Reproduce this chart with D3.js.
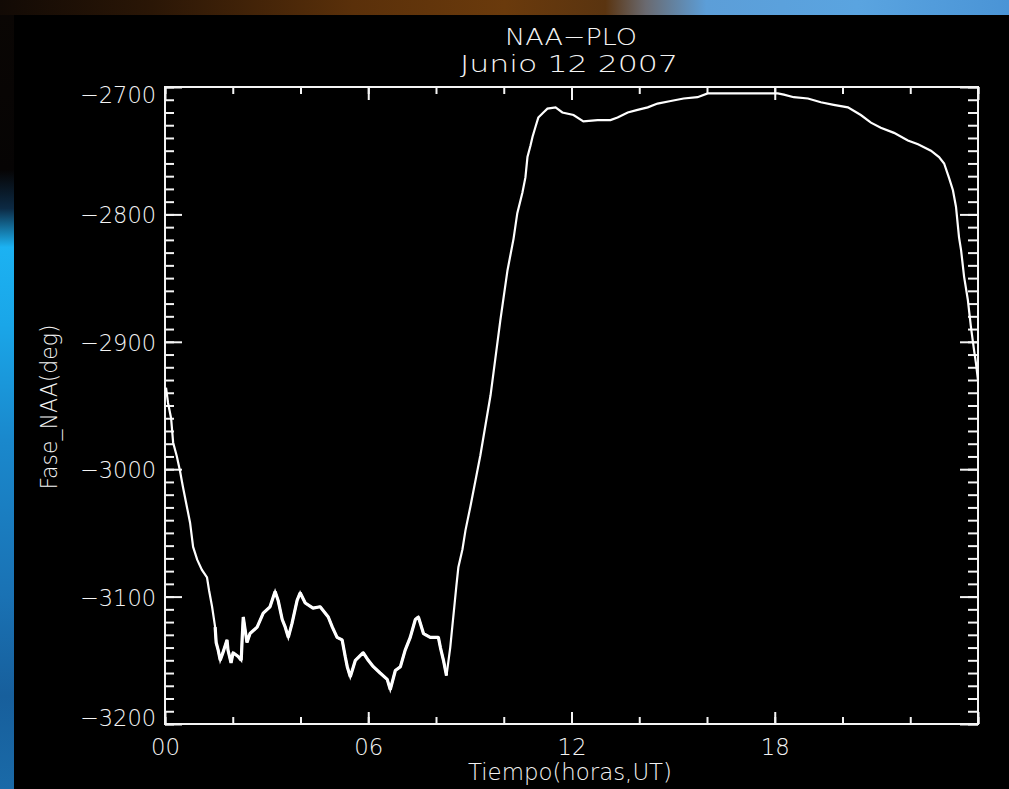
<!DOCTYPE html>
<html>
<head>
<meta charset="utf-8">
<script src="https://cdn.jsdelivr.net/npm/d3@7"></script>
<style>
  html, body { margin: 0; padding: 0; background: #000; }
  svg { display: block; }
  text { fill: #f4f4f4; font-family: "DejaVu Sans", sans-serif; font-weight: 200; }
</style>
</head>
<body>
<svg id="chart" width="1009" height="789"></svg>
<script>
/******************************************************************************/
/** data: time in hours UT, phase in degrees */

var hours = [0.03, 0.09, 0.18, 0.24, 0.35, 0.44, 0.53, 0.65, 0.74, 0.83, 0.95, 1.09, 1.24, 1.30, 1.39,
  1.48, 1.51, 1.57, 1.63, 1.71, 1.83, 1.86, 1.95, 2.01, 2.16, 2.25, 2.28, 2.31, 2.42, 2.51,
  2.72, 2.90, 3.10, 3.25, 3.34, 3.46, 3.55, 3.64, 3.75, 3.90, 3.99, 4.14, 4.37, 4.58, 4.82,
  4.94, 5.08, 5.23, 5.32, 5.38, 5.47, 5.62, 5.85, 6.00, 6.15, 6.35, 6.56, 6.65, 6.80, 6.95,
  7.09, 7.24, 7.39, 7.48, 7.63, 7.83, 8.07, 8.13, 8.22, 8.31, 8.42, 8.48, 8.54, 8.60, 8.66,
  8.78, 8.87, 9.01, 9.31, 9.61, 9.90, 10.11, 10.29, 10.40, 10.55, 10.64, 10.70, 10.79, 10.85, 10.94,
  11.02, 11.17, 11.29, 11.53, 11.73, 12.06, 12.35, 12.77, 13.15, 13.36, 13.66, 13.95, 14.25, 14.54, 14.93,
  15.31, 15.72, 16.02, 16.40, 16.79, 17.20, 17.59, 18.09, 18.27, 18.56, 18.98, 19.36, 19.74, 20.16, 20.54,
  20.84, 21.13, 21.52, 21.93, 22.23, 22.61, 22.85, 23.00, 23.14, 23.26, 23.35, 23.44, 23.50, 23.59, 23.70,
  23.79, 23.88, 23.94, 24.00];

var phase = [-2936, -2948, -2960, -2979, -2990, -3001, -3014, -3030, -3042, -3061, -3071, -3079, -3085, -3095, -3108,
  -3124, -3136, -3142, -3150, -3144, -3134, -3142, -3152, -3144, -3147, -3150, -3132, -3116, -3136, -3129,
  -3124, -3113, -3108, -3096, -3103, -3118, -3124, -3132, -3121, -3103, -3097, -3105, -3109, -3108, -3116,
  -3124, -3132, -3134, -3147, -3155, -3163, -3150, -3144, -3150, -3155, -3160, -3165, -3173, -3158, -3155,
  -3142, -3132, -3118, -3116, -3129, -3132, -3132, -3140, -3150, -3162, -3140, -3124, -3108, -3092, -3077,
  -3063, -3048, -3030, -2989, -2942, -2883, -2844, -2819, -2799, -2783, -2771, -2755, -2746, -2739, -2731,
  -2724, -2720, -2717, -2716, -2720, -2722, -2727, -2726, -2726, -2724, -2720, -2718, -2716, -2713, -2711,
  -2709, -2708, -2705, -2705, -2705, -2705, -2705, -2705, -2706, -2708, -2709, -2712, -2714, -2716, -2722,
  -2728, -2732, -2736, -2742, -2745, -2750, -2755, -2760, -2771, -2781, -2794, -2818, -2828, -2849, -2867,
  -2888, -2906, -2917, -2930];

var xMajor = [0, 6, 12, 18, 24];
var xMajorLabels = ["00", "06", "12", "18", ""];
var xMinor = d3.range(0, 25, 2);
var yMajor = [-3200, -3100, -3000, -2900, -2800, -2700];
var yMinor = d3.range(-3200, -2699, 10);

var titleLines = ["NAA\u2212PLO", "Junio 12 2007"];
var xTitle = "Tiempo(horas,UT)";
var yTitle = "Fase_NAA(deg)";

/******************************************************************************/
/** layout */

var plotLeft = 165, plotRight = 978, plotTop = 87, plotBottom = 724;
var ink = '#f4f4f4';

var svg = d3.select('#chart');

var x = d3.scaleLinear().domain([0, 24]).range([plotLeft, plotRight]);
var y = d3.scaleLinear().domain([-3200, -2700]).range([plotBottom, plotTop]);

/******************************************************************************/
/** backdrop: black plot window over a photo strip at top and left */

var defs = svg.append('defs');

var gTop = defs.append('linearGradient').attr('id', 'topStrip');
[[0, '#120a05'], [0.15, '#2a1606'], [0.35, '#5a300a'], [0.5, '#6a3a0c'], [0.6, '#5a3410'],
 [0.64, '#6a6a70'], [0.7, '#5c9ed8'], [0.85, '#5aa4e0'], [1, '#4a94d6']].forEach(function(s){
  gTop.append('stop').attr('offset', s[0]).attr('stop-color', s[1]);
});

var gLeft = defs.append('linearGradient').attr('id', 'leftStrip')
  .attr('x1', 0).attr('y1', 0).attr('x2', 0).attr('y2', 1);
[[0, '#0a0604'], [0.2, '#060404'], [0.25, '#0c2a44'], [0.3, '#1cb2f2'], [0.4, '#1aa6e8'],
 [0.55, '#1a88cc'], [0.75, '#1a72b4'], [0.88, '#175f9c'], [1, '#1a6aa8']].forEach(function(s){
  gLeft.append('stop').attr('offset', s[0]).attr('stop-color', s[1]);
});

svg.append('rect').attr('width', 1009).attr('height', 789).attr('fill', '#000');
svg.append('rect').attr('x', 0).attr('y', 0).attr('width', 1009).attr('height', 15).attr('fill', 'url(#topStrip)');
svg.append('rect').attr('x', 0).attr('y', 15).attr('width', 14).attr('height', 774).attr('fill', 'url(#leftStrip)');

/******************************************************************************/
/** axes: IDL style box, ticks pointing inward on all four sides */

function styleAxis(g){
  g.select('.domain').remove();
  g.attr('font-family', null).attr('font-size', null).attr('color', ink);
  g.selectAll('line').attr('stroke', ink).attr('stroke-width', 2);
}

svg.append('g').attr('transform', 'translate(' + plotLeft + ',0)')
  .call(d3.axisLeft(y).tickValues(yMinor).tickSize(-9).tickFormat(''))
  .call(styleAxis);
svg.append('g').attr('transform', 'translate(' + plotRight + ',0)')
  .call(d3.axisRight(y).tickValues(yMinor).tickSize(-10).tickFormat(''))
  .call(styleAxis);
svg.append('g').attr('transform', 'translate(' + plotRight + ',0)')
  .call(d3.axisRight(y).tickValues(yMajor).tickSize(-18).tickFormat(''))
  .call(styleAxis);

var yAx = svg.append('g').attr('transform', 'translate(' + plotLeft + ',0)')
  .call(d3.axisLeft(y).tickValues(yMajor).tickSize(-17).tickPadding(9)
    .tickFormat(function(d){ return '\u2212' + Math.abs(d); }))
  .call(styleAxis);
yAx.selectAll('text')
  .attr('font-size', 23)
  .attr('dy', null)
  .attr('y', function(d){ return d == -2700 ? 15 : (d == -3200 ? 1 : 8.5); })
  .attr('textLength', 76).attr('lengthAdjust', 'spacingAndGlyphs');

svg.append('g').attr('transform', 'translate(0,' + plotBottom + ')')
  .call(d3.axisBottom(x).tickValues(xMinor).tickSize(-7).tickFormat(''))
  .call(styleAxis);
svg.append('g').attr('transform', 'translate(0,' + plotTop + ')')
  .call(d3.axisTop(x).tickValues(xMinor).tickSize(-7).tickFormat(''))
  .call(styleAxis);
svg.append('g').attr('transform', 'translate(0,' + plotTop + ')')
  .call(d3.axisTop(x).tickValues(xMajor).tickSize(-13).tickFormat(''))
  .call(styleAxis);

var xAx = svg.append('g').attr('transform', 'translate(0,' + plotBottom + ')')
  .call(d3.axisBottom(x).tickValues(xMajor).tickSize(-12)
    .tickFormat(function(d, i){ return xMajorLabels[i]; }))
  .call(styleAxis);
xAx.selectAll('text')
  .attr('font-size', 23)
  .attr('dy', null)
  .attr('y', 31)
  .filter(function(d, i){ return xMajorLabels[i] != ''; })
  .attr('textLength', 29).attr('lengthAdjust', 'spacingAndGlyphs');

// frame
svg.append('rect').attr('x', plotLeft).attr('y', plotTop)
  .attr('width', plotRight - plotLeft).attr('height', plotBottom - plotTop)
  .attr('fill', 'none').attr('stroke', ink).attr('stroke-width', 2);

/******************************************************************************/
/** the phase curve */

var pts = hours.map(function(h, i){ return [h, phase[i]]; });
var line = d3.line().x(function(d){ return x(d[0]); }).y(function(d){ return y(d[1]); });

svg.append('path').datum(pts)
  .attr('d', line)
  .attr('fill', 'none')
  .attr('stroke', '#ffffff')
  .attr('stroke-width', 2.2)
  .attr('stroke-linejoin', 'miter');

// the noisy night-time stretch plots as a thicker, ragged band
svg.append('path').datum(pts.filter(function(d){ return d[0] > 1.45 && d[0] < 8.35; }))
  .attr('d', line)
  .attr('fill', 'none')
  .attr('stroke', '#ffffff')
  .attr('stroke-width', 3.2)
  .attr('stroke-linejoin', 'bevel');

/******************************************************************************/
/** titles */

svg.append('text').text(titleLines[0])
  .attr('x', 571).attr('y', 45).attr('text-anchor', 'middle')
  .attr('font-size', 23).attr('textLength', 132).attr('lengthAdjust', 'spacingAndGlyphs');
svg.append('text').text(titleLines[1])
  .attr('x', 569).attr('y', 72).attr('text-anchor', 'middle')
  .attr('font-size', 23).attr('textLength', 218).attr('lengthAdjust', 'spacingAndGlyphs');

svg.append('text').text(xTitle)
  .attr('x', 570).attr('y', 780).attr('text-anchor', 'middle')
  .attr('font-size', 23).attr('textLength', 204).attr('lengthAdjust', 'spacingAndGlyphs');

svg.append('text').text(yTitle)
  .attr('transform', 'translate(57,407) rotate(-90)')
  .attr('text-anchor', 'middle')
  .attr('font-size', 23).attr('textLength', 165).attr('lengthAdjust', 'spacingAndGlyphs');
</script>
</body>
</html>
